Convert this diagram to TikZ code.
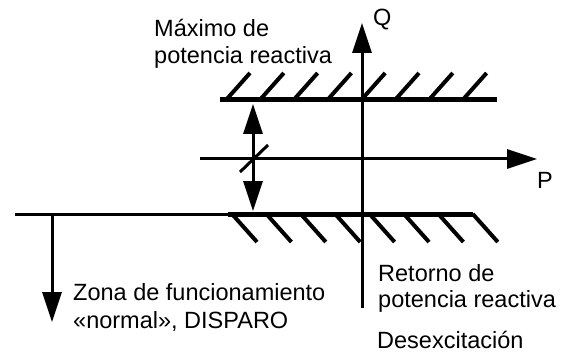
\documentclass[tikz,border=0pt]{standalone}
\usepackage{fontspec}
\setmainfont{Liberation Sans}
\usetikzlibrary{arrows.meta}
\begin{document}
\begin{tikzpicture}[x=1pt,y=-1pt,
  lbl/.style={anchor=base west, inner sep=0pt, font=\fontsize{23.5}{27}\selectfont},
  limitline/.style={line width=5pt},
  axisline/.style={line width=3pt},
  hatchline/.style={line width=4pt},
  bigtip/.tip={Triangle[length=30pt,width=19pt]},
  tipped/.style={-bigtip}]
\useasboundingbox (0,0) rectangle (572,358);

% axes
\coordinate (qbot) at (362,308);
\coordinate (qtop) at (362,23);
\coordinate (pl) at (200,159);
\coordinate (pr) at (537,159);
\draw[axisline,tipped] (qbot) -- (qtop);
\draw[axisline,tipped] (pl) -- (pr);

% upper limit
\coordinate (tl) at (220,100);
\coordinate (tr) at (497,100);
\draw[limitline] (tl) -- (tr);
\foreach \i in {0,...,7}
  \draw[hatchline] (226+33.8*\i,100) -- ++(24,-27);

% lower limit
\coordinate (bl) at (15,214);
\coordinate (bm) at (228,214);
\coordinate (br) at (473,214);
\draw[axisline] (bl) -- (bm);
\draw[limitline] (bm) -- (br);
\foreach \i in {0,...,7}
  \draw[hatchline] (232+34.4*\i,214) -- ++(25,28);

% adjustable band arrow
\coordinate (da) at (253,104);
\coordinate (db) at (253,211);
\draw[axisline,bigtip-bigtip] (da) -- (db);
\coordinate (sa) at (240,172);
\coordinate (sb) at (268,145);
\draw[axisline] (sa) -- (sb);

% trip arrow
\coordinate (ta) at (52,214);
\coordinate (tb) at (52,322);
\draw[axisline,tipped] (ta) -- (tb);

% labels
\node[lbl] (max1) at (154,37) {Máximo de};
\node[lbl] (max2) at (154,64) {potencia reactiva};
\node[lbl] (qlab) at (373,26) {Q};
\node[lbl] (plab) at (537,188) {P};
\node[lbl] (zona1) at (73,300) {Zona de funcionamiento};
\node[lbl] (zona2) at (73,328) {«normal», DISPARO};
\node[lbl] (ret1) at (378,281) {Retorno de};
\node[lbl] (ret2) at (378,307) {potencia reactiva};
\node[lbl] (desex) at (377,348) {Desexcitación};
\end{tikzpicture}
\end{document}
